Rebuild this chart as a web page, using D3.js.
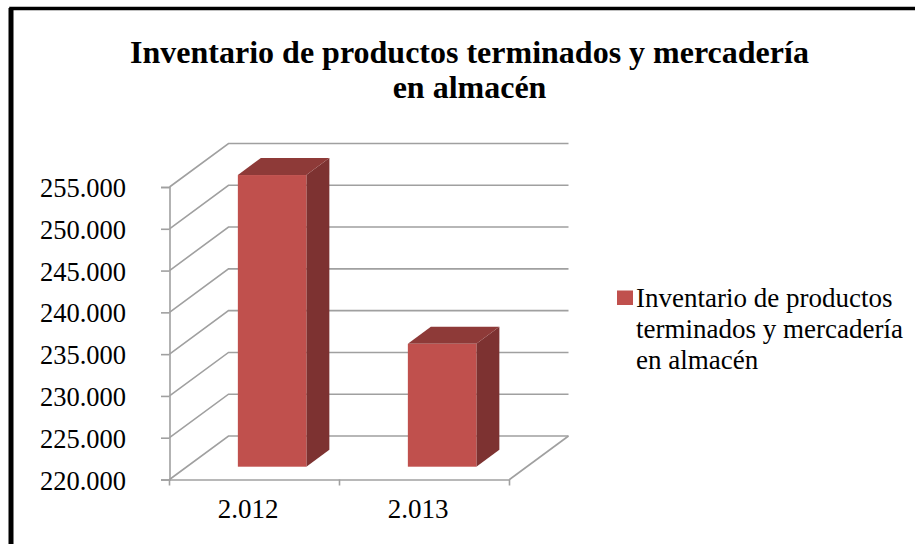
<!DOCTYPE html>
<html>
<head>
<meta charset="utf-8">
<script src="https://cdn.jsdelivr.net/npm/d3@7"></script>
<style>
body { margin: 0; background: #fff; }
text { font-family: "Liberation Serif", serif; fill: #000; }
</style>
</head>
<body>
<svg id="chart" width="915" height="544"></svg>
<script>
var categories = ["2.012", "2.013"];
var values = [254900, 234700];
var yTicks = [220000, 225000, 230000, 235000, 240000, 245000, 250000, 255000];
var yTickLabels = ["220.000", "225.000", "230.000", "235.000", "240.000", "245.000", "250.000", "255.000"];
var titleLines = ["Inventario de productos terminados y mercadería", "en almacén"];
var legendLines = ["Inventario de productos", "terminados y mercadería", "en almacén"];

var svg = d3.select("#chart");

// front plane of the 3d box
var x = d3.scaleBand().domain(categories).range([169.5, 509.5]).paddingInner(0).paddingOuter(0);
var y = d3.scaleLinear().domain([220000, 255000]).range([479.5, 187]);

// depth of the box and of the bars
var depthX = 59, depthY = -43.5;
var barOffX = 17.6, barOffY = -12.8;
var barW = 68.5, sideX = 23, sideY = -17;

var gridColor = "#a0a0a0";

// outer frame, thicker on the left like the scanned original
svg.append("rect").attr("x", 11).attr("y", 8.5).attr("width", 920).attr("height", 550)
    .attr("fill", "#fff").attr("stroke", "#000").attr("stroke-width", 3.5);
svg.append("rect").attr("x", 8.5).attr("y", 8).attr("width", 5).attr("height", 536).attr("fill", "#000");

// grid lines on left wall and back wall
var grid = svg.append("g").attr("fill", "none").attr("stroke", gridColor).attr("stroke-width", 1.6);
yTicks.forEach(function (t) {
    var p = d3.path();
    p.moveTo(x.range()[0], y(t));
    p.lineTo(x.range()[0] + depthX, y(t) + depthY);
    p.lineTo(x.range()[1] + depthX, y(t) + depthY);
    grid.append("path").attr("d", p.toString());
});
// floor right edge
grid.append("path").attr("d", d3.line()([
    [x.range()[1], y(220000)],
    [x.range()[1] + depthX, y(220000) + depthY]
]));

// axes
var yAxis = d3.axisLeft(y).tickValues(yTicks).tickSize(8.5).tickPadding(35)
    .tickFormat(function (d, i) { return yTickLabels[i]; });
var yG = svg.append("g").attr("transform", "translate(169.5,0)").call(yAxis);
yG.selectAll("text").attr("dy", "0.36em").style("font-size", "26.5px");

var xAxis = d3.axisBottom(x).tickSize(0).tickPadding(19);
var xG = svg.append("g").attr("transform", "translate(0," + y(220000) + ")").call(xAxis);
xG.selectAll("text").attr("dx", -6.5).style("font-size", "27px");
x.range().concat([x(categories[1])]).forEach(function (v) {
    xG.append("line").attr("x1", v).attr("x2", v).attr("y1", 0).attr("y2", 6);
});
svg.selectAll(".domain, .tick line, g line").attr("stroke", gridColor).attr("stroke-width", 1.6);

// bars
var bars = svg.selectAll("g.bar").data(values).enter().append("g").attr("class", "bar")
    .attr("transform", function (d, i) {
        var cx = x(categories[i]) + x.bandwidth() / 2 + barOffX;
        return "translate(" + (cx - barW / 2) + "," + barOffY + ")";
    });
bars.append("path").attr("fill", "#7d3231").attr("d", function (d) {
    return d3.line()([[barW, y(d)], [barW + sideX, y(d) + sideY], [barW + sideX, y(220000) + sideY], [barW, y(220000)]]);
});
bars.append("path").attr("fill", "#8e3a38").attr("d", function (d) {
    return d3.line()([[0, y(d)], [sideX, y(d) + sideY], [barW + sideX, y(d) + sideY], [barW, y(d)]]);
});
bars.append("rect").attr("fill", "#c0504d").attr("x", 0).attr("width", barW)
    .attr("y", function (d) { return y(d); })
    .attr("height", function (d) { return y(220000) - y(d); });

// title
svg.append("g").selectAll("text").data(titleLines).enter().append("text")
    .attr("x", 469.5).attr("y", function (d, i) { return 63 + i * 34.5; })
    .attr("text-anchor", "middle").style("font-size", "32px").style("font-weight", "bold")
    .text(function (d) { return d; });

// legend
svg.append("rect").attr("x", 617).attr("y", 290.5).attr("width", 16).attr("height", 14.5).attr("fill", "#c0504d");
svg.append("g").selectAll("text").data(legendLines).enter().append("text")
    .attr("x", 636).attr("y", function (d, i) { return 307 + i * 31; })
    .style("font-size", "27px")
    .text(function (d) { return d; });
</script>
</body>
</html>
